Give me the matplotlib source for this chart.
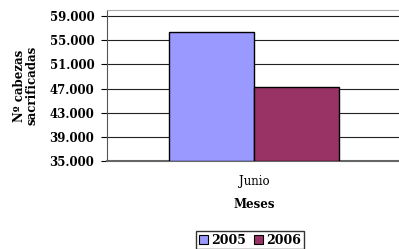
import matplotlib.pyplot as plt
from matplotlib.patches import Patch

# data
years = ['2005', '2006']
values = [56400, 47200]
colors = ['#9999ff', '#993366']
category = 'Junio'
yticks = [35000, 39000, 43000, 47000, 51000, 55000, 59000]
ytick_labels = ['35.000', '39.000', '43.000', '47.000', '51.000', '55.000', '59.000']

plt.rcParams['font.family'] = ['DejaVu Serif']

fig = plt.figure(figsize=(3.99, 2.49), dpi=100)
W, H = 399, 249
# plot area in pixels: left 107, right ~401, top 10, bottom 161
ax = fig.add_axes([107 / W, 1 - 161 / H, 294 / W, 151 / H])

bar_w = 0.29
xs = [-bar_w / 2, bar_w / 2]
for x, v, c in zip(xs, values, colors):
    ax.bar(x, v - 35000, bottom=35000, width=bar_w, color=c,
           edgecolor='black', linewidth=1.0, zorder=3)

ax.set_xlim(-0.5, 0.5)
ax.set_ylim(35000, 35000 + 151 / 145 * 24000)
ax.set_yticks(yticks)
ax.set_yticklabels(ytick_labels, fontsize=8.5, fontweight='bold')
ax.yaxis.grid(True, color='#222222', linewidth=0.8, zorder=0)
ax.tick_params(axis='y', length=4, width=0.8, pad=5)
ax.set_xticks([0])
ax.set_xticklabels([category], fontsize=8.5)
ax.tick_params(axis='x', length=0, pad=10)

ax.spines['right'].set_visible(False)
ax.spines['top'].set_color('#aaaaaa')
ax.spines['left'].set_color('#555555')
ax.spines['bottom'].set_color('#666666')
ax.spines['bottom'].set_linewidth(1.5)

ax.set_xlabel('Meses', fontsize=8.5, fontweight='bold', labelpad=7)
ax.set_ylabel('Nº cabezas\nsacrificadas', fontsize=8.5, fontweight='bold',
              labelpad=8, linespacing=0.95)

handles = [Patch(facecolor=c, edgecolor='black', linewidth=0.8) for c in colors]
fig.legend(handles, years, loc='upper center', bbox_to_anchor=(250 / W, 1 - 231 / H),
           ncol=2, prop={'weight': 'bold', 'size': 9},
           frameon=True, fancybox=False, edgecolor='black',
           handlelength=0.7, handleheight=0.7, handletextpad=0.3,
           columnspacing=0.6, borderpad=0.2, borderaxespad=0)

fig.savefig('out.png', dpi=100)
